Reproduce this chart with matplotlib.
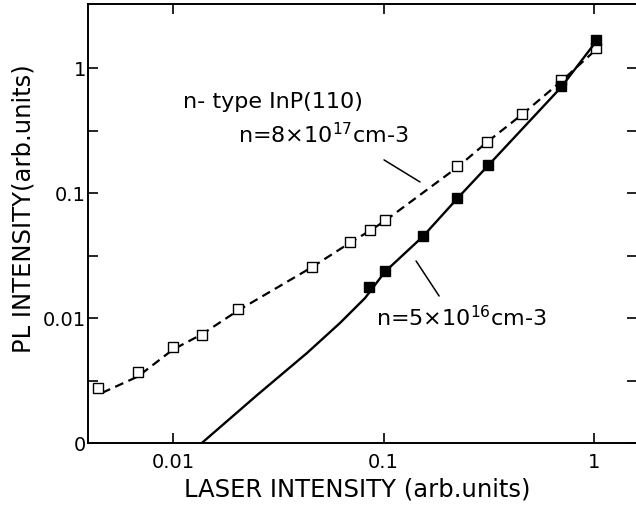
import numpy as np
import matplotlib
matplotlib.use("Agg")
import matplotlib.pyplot as plt
from matplotlib.ticker import FixedLocator, NullFormatter

# n = 8e17 cm-3 (open squares, dashed curve)
high_x = [0.0044, 0.0068, 0.0100, 0.0137, 0.0204, 0.0457, 0.0693, 0.0863,
          0.1017, 0.2235, 0.310, 0.455, 0.697, 1.02]
high_y = [0.00277, 0.00372, 0.00587, 0.00732, 0.0118, 0.0255, 0.0403, 0.0502,
          0.0604, 0.163, 0.257, 0.430, 0.802, 1.44]
high_fit_x = [0.0046, 0.0068, 0.0100, 0.0137, 0.0204, 0.0457, 0.0693, 0.0863,
              0.1017, 0.2235, 0.310, 0.455, 0.697, 1.02]
high_fit_y = [0.00252, 0.00340, 0.00560, 0.00740, 0.0115, 0.0255, 0.0400, 0.0500,
              0.0600, 0.160, 0.255, 0.425, 0.780, 1.40]

# n = 5e16 cm-3 (filled squares, solid curve)
low_x = [0.0853, 0.1017, 0.154, 0.2235, 0.313, 0.697, 1.02]
low_y = [0.01766, 0.0237, 0.045, 0.0904, 0.166, 0.719, 1.67]
low_fit_x = [0.0137, 0.0251, 0.0433, 0.0621, 0.0817, 0.1017, 0.154, 0.2235,
             0.313, 0.697, 1.02]
low_fit_y = [0.00100, 0.00242, 0.00525, 0.00912, 0.01445, 0.0235, 0.045, 0.090,
             0.165, 0.700, 1.62]

x_ticks = [0.01, 0.1, 1]
x_labels = ["0.01", "0.1", "1"]
y_ticks = [0.001, 0.01, 0.1, 1]
y_labels = ["0", "0.01", "0.1", "1"]
y_minor = [10 ** -2.5, 10 ** -1.5, 10 ** -0.5]

fig = plt.figure(figsize=(6.36, 5.16), dpi=100)
ax = fig.add_axes([88 / 636, 73 / 516, (637 - 88) / 636, (443 - 4) / 516])
ax.set_xscale("log")
ax.set_yscale("log")
ax.set_xlim(10 ** -2.404, 10 ** 0.204)
ax.set_ylim(0.001, 10 ** 0.512)

ax.plot(high_fit_x, high_fit_y, color="black", lw=1.6, ls=(0, (4, 2.5)))
ax.plot(high_x, high_y, ls="none", marker="s", ms=6.5, mfc="white",
        mec="black", mew=1.0)
ax.plot(low_fit_x, low_fit_y, color="black", lw=1.7)
ax.plot(low_x, low_y, ls="none", marker="s", ms=6.5, mfc="black",
        mec="black")

for s in ax.spines.values():
    s.set_linewidth(1.4)

ax.xaxis.set_major_locator(FixedLocator(x_ticks))
ax.set_xticklabels(x_labels)
ax.xaxis.set_minor_locator(FixedLocator([]))
ax.yaxis.set_major_locator(FixedLocator(y_ticks))
ax.set_yticklabels(y_labels)
ax.yaxis.set_minor_locator(FixedLocator(y_minor))
ax.yaxis.set_minor_formatter(NullFormatter())
ax.tick_params(which="both", direction="in", length=7, width=1.2,
               top=True, right=True, labelsize=14)
ax.tick_params(axis="x", pad=7)
ax.tick_params(axis="y", pad=1.5)

ax.text(0.173, 0.763, "n- type InP(110)", transform=ax.transAxes,
        fontsize=16, va="baseline", ha="left")
ax.text(0.273, 0.683, "n=8×10$^{17}$cm-3", transform=ax.transAxes,
        fontsize=16, va="baseline", ha="left")
ax.annotate("", xy=(0.149, 0.1225), xytext=(0.1005, 0.184),
            arrowprops=dict(arrowstyle="-", color="black", lw=1.1,
                            shrinkA=0, shrinkB=0))
ax.text(0.5246, 0.2665, "n=5×10$^{16}$cm-3", transform=ax.transAxes,
        fontsize=16, va="baseline", ha="left")
ax.annotate("", xy=(0.1427, 0.0286), xytext=(0.1836, 0.015),
            arrowprops=dict(arrowstyle="-", color="black", lw=1.1,
                            shrinkA=0, shrinkB=0))

fig.text(357 / 636, 1 - 490 / 516, "LASER INTENSITY (arb.units)", fontsize=17.5,
         ha="center", va="center")
fig.text(24 / 636, 1 - 209 / 516, "PL INTENSITY(arb.units)", fontsize=17.5,
         ha="center", va="center", rotation=90)

fig.savefig("out.png", dpi=100)
